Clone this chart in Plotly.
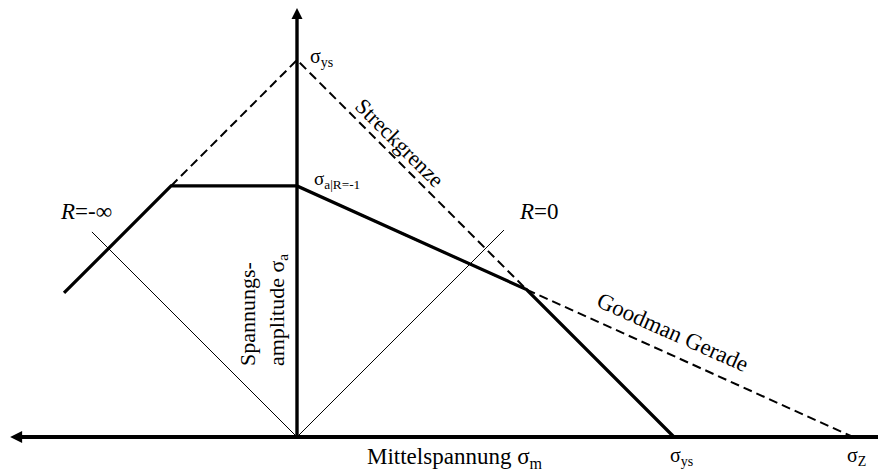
import plotly.graph_objects as go

# Characteristic stresses of the Haigh diagram (normalised to the yield strength)
sigma_ys = 1.0          # yield strength (both axes)
sigma_z = 1.475         # tensile strength, end of the Goodman line
sigma_a_rm1 = 0.666     # fatigue amplitude at R = -1

# Extent of the drawn lines (mean stress values)
sigma_m_left_end = [-0.618]     # lower end of the compressive yield branch
r_line_len = [-0.544, 0.549]    # reach of the R = -inf and R = 0 guide lines
axis_tip = [-0.761, 1.138]      # arrow tips of the sigma_m and sigma_a axes
axis_right_end = 1.56
head_inset = 0.02               # axis lines stop inside the arrow heads

# Goodman line: sigma_a = sigma_a_rm1 * (1 - sigma_m / sigma_z)
goodman_slope = sigma_a_rm1 / sigma_z
knee_m = (sigma_ys - sigma_a_rm1) / (1 - goodman_slope)
knee_a = sigma_ys - knee_m
flat_start_m = -(sigma_ys - sigma_a_rm1)

haigh_m = [sigma_m_left_end[0], flat_start_m, 0.0, knee_m, sigma_ys]
haigh_a = [sigma_ys + sigma_m_left_end[0], sigma_a_rm1, sigma_a_rm1, knee_a, 0.0]

fig = go.Figure()

# R guide lines through the origin
fig.add_trace(go.Scatter(x=[0, r_line_len[0]], y=[0, -r_line_len[0]], mode="lines",
                         line=dict(color="black", width=1)))
fig.add_trace(go.Scatter(x=[0, r_line_len[1]], y=[0, r_line_len[1]], mode="lines",
                         line=dict(color="black", width=1)))

dash_style = "9px,5px"
# Yield lines
fig.add_trace(go.Scatter(x=[flat_start_m, 0, sigma_ys], y=[sigma_ys + flat_start_m, sigma_ys, 0],
                         mode="lines", line=dict(color="black", width=2, dash=dash_style)))
# Goodman line
fig.add_trace(go.Scatter(x=[0, sigma_z], y=[sigma_a_rm1, 0], mode="lines",
                         line=dict(color="black", width=2, dash=dash_style)))
# Haigh limit curve
fig.add_trace(go.Scatter(x=haigh_m, y=haigh_a, mode="lines",
                         line=dict(color="black", width=3.2)))

# Axes
fig.add_trace(go.Scatter(x=[axis_right_end, axis_tip[0] + head_inset], y=[0, 0], mode="lines",
                         line=dict(color="black", width=4)))
fig.add_trace(go.Scatter(x=[0, 0], y=[0, axis_tip[1] - head_inset], mode="lines",
                         line=dict(color="black", width=3.4)))
# Arrow heads (tip of the symbol sits on the point)
fig.add_trace(go.Scatter(x=[axis_tip[0]], y=[0], mode="markers",
                         marker=dict(symbol="arrow-left", size=12, color="black",
                                     line=dict(width=0))))
fig.add_trace(go.Scatter(x=[0], y=[axis_tip[1]], mode="markers",
                         marker=dict(symbol="arrow-up", size=11, color="black",
                                     line=dict(width=0))))

serif = "Liberation Serif"


def label(x, y, text, size=21, angle=0, xanchor="center", align="center"):
    fig.add_annotation(x=x, y=y, xref="x", yref="y", text=text, showarrow=False,
                       textangle=angle, xanchor=xanchor, yanchor="middle", align=align,
                       font=dict(family=serif, size=size, color="black"))


label(0.029, 1.008, "σ<sub>ys</sub>", size=20, xanchor="left")
label(0.040, 0.682, "σ<sub>a|R=-1</sub>", size=19, xanchor="left")
label(1.019, -0.053, "σ<sub>ys</sub>", size=20)
label(1.485, -0.053, "σ<sub>Z</sub>", size=20)
label(0.419, -0.056, "Mittelspannung σ<sub>m</sub>", size=23)
label(-0.560, 0.597, "<i>R</i>=-∞", size=23)
label(0.642, 0.597, "<i>R</i>=0", size=23)
label(0.271, 0.780, "Streckgrenze", size=22, angle=45)
label(0.997, 0.276, "Goodman Gerade", size=23, angle=24)
label(-0.090, 0.337, "Spannungs-<br>amplitude σ<sub>a</sub>", size=22, angle=-90, align="left")

fig.update_layout(
    width=878, height=475,
    margin=dict(l=0, r=0, t=0, b=0),
    paper_bgcolor="white", plot_bgcolor="white",
    showlegend=False,
    xaxis=dict(range=[-0.7878, 1.5411], visible=False, fixedrange=True),
    yaxis=dict(range=[-0.1008, 1.1592], visible=False, fixedrange=True),
)

fig.write_html("out.html")
